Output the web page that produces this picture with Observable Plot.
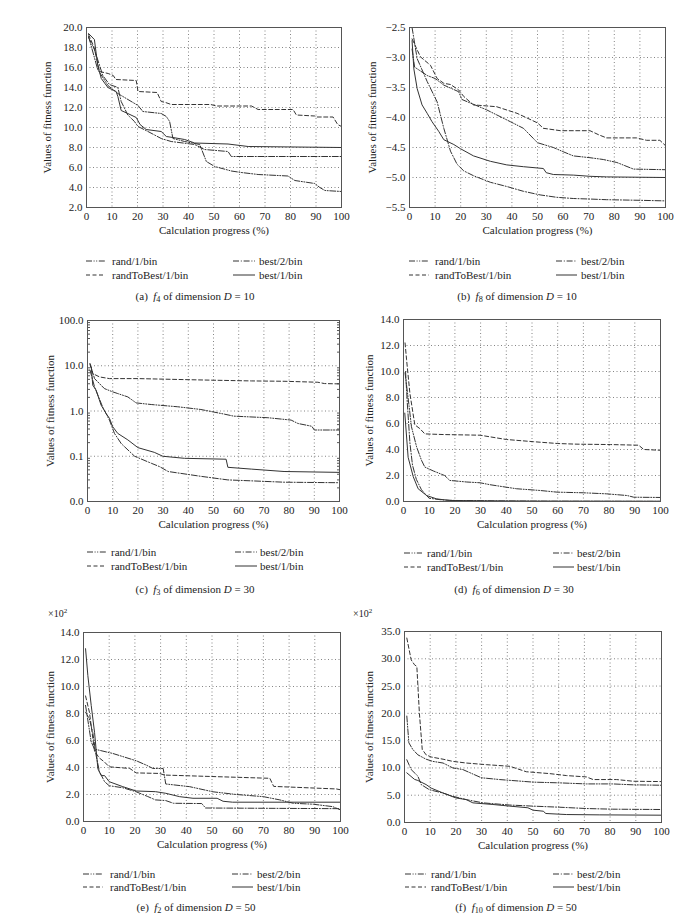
<!DOCTYPE html>
<html><head><meta charset="utf-8">
<script src="https://cdn.jsdelivr.net/npm/d3@7"></script>
<script src="https://cdn.jsdelivr.net/npm/@observablehq/plot@0.6"></script>
<style>
body{margin:0;background:#fff;}
#fig{position:relative;width:688px;height:923px;font-family:"Liberation Serif",serif;color:#222;overflow:hidden;}
.panel{position:absolute;}
.panel svg{overflow:visible;background:transparent !important;max-width:none !important;}
.leg{position:absolute;font-size:11px;line-height:12px;white-space:nowrap;transform:translateY(-50%);}
.samp{position:absolute;}
.cap{position:absolute;font-size:11px;white-space:nowrap;transform:translate(-50%,-50%);}
.cap sub{font-size:75%;vertical-align:-0.3em;line-height:0;}
.mult{position:absolute;font-size:10px;white-space:nowrap;transform:translateY(-50%);}
.mult sup{font-size:70%;vertical-align:0.45em;line-height:0;}
</style></head><body><div id="fig"></div>
<script>
// ---------- data ----------
const seriesNames = ["rand/1/bin", "best/2/bin", "randToBest/1/bin", "best/1/bin"];
const xTicks = [0,10,20,30,40,50,60,70,80,90,100];

// (a) f4, D = 10
const a_yTicks = [2,4,6,8,10,12,14,16,18,20];
const a_rand = [[0.8,19.1],[4.4,15.8],[8.4,14.2],[12.3,13.4],[20.2,12.2],[22.1,11.6],[29.3,11.4],[31.3,11.1],[32.6,10.6],[33.9,8.9],[38.5,8.6],[44.4,8.3],[47,6.6],[50.3,6.1],[56.8,5.65],[60.7,5.5],[67.3,5.3],[79,5.15],[81.7,4.7],[89.5,4.4],[91.5,4.0],[93.5,3.7],[100,3.6]];
const a_best2 = [[0.8,19.0],[3.1,17.8],[6.4,15.2],[9,14.3],[12.3,14.0],[13.6,12.6],[16.2,11.25],[18.8,10.6],[20.2,10.1],[24.1,9.6],[29.3,8.9],[33.2,8.6],[42.4,8.3],[46.3,7.8],[55.5,7.6],[56.8,7.1],[100,7.1]];
const a_rtb = [[0.8,19.3],[3,18],[5.1,15.6],[8.5,15.4],[10.5,15.2],[11.5,14.8],[19.5,14.7],[20.2,13.6],[27.7,13.5],[29.3,12.6],[31,12.5],[33.2,12.3],[48.7,12.3],[51,12.15],[64.7,12.15],[67.3,11.8],[81,11.8],[82.3,11.25],[89.5,11.15],[90,11.05],[96.7,11.05],[98.5,10.3],[100,10.1]];
const a_best1 = [[0.8,19.4],[3.1,18.8],[4.4,16.2],[5.8,14.9],[8.4,14.0],[11.6,13.6],[12.3,13.1],[13.6,11.7],[16.2,11.4],[19.5,11.0],[21,10.3],[23.4,9.8],[29.3,9.6],[31.3,9.1],[33.9,9.0],[38.5,8.8],[42.4,8.45],[55.5,8.35],[63.4,8.1],[100,8.0]];

// (b) f8, D = 10
const b_yTicks = [-5.5,-5,-4.5,-4,-3.5,-3,-2.5];
const b_rand = [[1,-2.86],[2,-3.16],[6.9,-3.3],[10,-3.35],[13.4,-3.46],[19.2,-3.57],[20.5,-3.7],[30,-3.87],[39.4,-4.07],[44.5,-4.18],[50,-4.42],[56.2,-4.5],[60,-4.57],[64,-4.64],[70.5,-4.67],[75.7,-4.7],[81,-4.75],[87.5,-4.86],[100,-4.87]];
const b_best2 = [[1,-2.5],[3,-3.02],[6.9,-3.4],[10.8,-3.74],[13.4,-4.18],[16,-4.56],[18.6,-4.78],[21.2,-4.89],[25,-4.97],[31.6,-5.08],[38,-5.15],[44.5,-5.23],[51,-5.29],[57.5,-5.33],[64,-5.35],[71,-5.36],[77,-5.37],[90,-5.38],[100,-5.39]];
const b_rtb = [[1,-2.69],[4.3,-2.99],[8.2,-3.13],[10.8,-3.35],[13.4,-3.43],[16,-3.45],[19.2,-3.54],[21.2,-3.65],[25,-3.79],[34,-3.82],[42,-3.93],[50,-4.09],[52.3,-4.18],[59,-4.22],[70.5,-4.22],[74,-4.29],[77,-4.34],[88.7,-4.34],[92.6,-4.38],[97.8,-4.38],[100,-4.47]];
const b_best1 = [[1,-2.72],[1.7,-3.19],[3,-3.52],[4.9,-3.79],[6.9,-3.93],[8.8,-4.07],[11.4,-4.23],[13.4,-4.37],[17.3,-4.45],[19.9,-4.52],[25,-4.64],[31.6,-4.73],[38,-4.79],[44.5,-4.82],[52.3,-4.85],[53.4,-4.92],[56.2,-4.95],[64,-4.96],[70.5,-4.98],[77,-4.99],[100,-5.0]];

// (c) f3, D = 30 (log scale)
const c_yTicks = [0.01,0.1,1,10,100];
const c_rand = [[1,11],[2.8,5.2],[6.7,3.13],[10,2.65],[12,2.43],[16,2.05],[19.3,1.51],[25.3,1.39],[35.8,1.24],[45,1.08],[54.4,0.85],[58,0.77],[71.6,0.71],[80.8,0.63],[83.5,0.53],[89,0.46],[90,0.38],[100,0.38]];
const c_best2 = [[1,8],[2.8,3.4],[6,1.23],[8.7,0.63],[10.7,0.32],[13.4,0.19],[18.7,0.1],[25.3,0.07],[28.6,0.059],[32,0.046],[45,0.036],[55.7,0.03],[65,0.0286],[78,0.0267],[100,0.026]];
const c_rtb = [[1,11.1],[2.1,6.7],[4.8,5.66],[8.7,5.2],[20,5.2],[38.5,4.94],[51.7,4.77],[65,4.62],[78,4.54],[91.4,4.32],[94,4.04],[100,3.97]];
const c_best1 = [[1,10],[1.5,9.4],[2.1,3.7],[3.4,2.9],[5.4,1.35],[7.4,0.88],[8.7,0.69],[10,0.45],[12,0.32],[16,0.23],[20,0.155],[26.5,0.122],[29.9,0.1],[38.5,0.09],[55,0.086],[55.7,0.057],[65,0.052],[78,0.046],[100,0.044]];

// (d) f6, D = 30
const d_yTicks = [0,2,4,6,8,10,12,14];
const d_rand = [[0.6,9.9],[2.2,7.3],[3.1,5.75],[5.1,4.2],[7,3.17],[8.3,2.65],[11.6,2.35],[16,2.0],[18,1.62],[24.6,1.5],[29.8,1.44],[33.7,1.29],[44,0.98],[53,0.85],[59.7,0.72],[70,0.67],[79,0.59],[87,0.46],[89.6,0.33],[100,0.31]];
const d_best2 = [[0.8,10.0],[1.5,7.5],[2.5,4.5],[3.5,2.8],[5,1.7],[7,0.9],[9,0.45],[10,0.25],[15,0.12],[20,0.08],[40,0.04],[60,0.02],[100,0.01]];
const d_rtb = [[0.6,12.2],[1.2,10.9],[2.5,8.3],[4.4,5.9],[6.4,5.6],[8.3,5.2],[15.5,5.15],[29.8,5.1],[40,4.77],[50.6,4.6],[60,4.46],[67.5,4.41],[80.5,4.38],[91.5,4.33],[93.5,4.0],[100,3.94]];
const d_best1 = [[0.5,6.8],[1.8,3.4],[3.8,1.9],[5.7,0.98],[9,0.46],[12.9,0.2],[18,0.08],[30,0.05],[50,0.03],[100,0.02]];

// (e) f2, D = 50 (x10^2)
const e_yTicks = [0,2,4,6,8,10,12,14];
const e_rand = [[0.8,8.6],[3,5.9],[4.3,5.36],[11.4,5.04],[20.5,4.5],[24.4,4.18],[27,3.93],[31,3.93],[32,2.78],[41.3,2.58],[50.4,2.2],[59.5,2.0],[70,1.84],[76.4,1.6],[81.6,1.35],[89.4,1.28],[97,1.1],[100,0.86]];
const e_best2 = [[0.8,8.1],[2.3,7.6],[3.6,6.6],[4.9,4.9],[6.2,3.7],[8.2,2.95],[10,2.65],[15.3,2.5],[20.5,2.2],[25,1.85],[28,1.6],[32,1.55],[35,1.35],[46,1.33],[47.5,1.0],[100,0.95]];
const e_rtb = [[0.8,9.3],[2.3,8.1],[4.3,5.2],[6.2,4.7],[8.2,4.4],[10,4.05],[18,3.93],[20.5,3.6],[29.6,3.56],[31.5,3.44],[72.5,3.2],[74,2.6],[98.4,2.41],[100,2.35]];
const e_best1 = [[0.8,12.8],[1.7,10.8],[3,8.6],[4.3,6.6],[5.6,3.9],[6.9,3.4],[8.2,3.4],[10,2.95],[15.3,2.58],[20.5,2.26],[28,2.21],[32,2.09],[37.4,1.84],[42.6,1.72],[52,1.72],[54.3,1.5],[58,1.43],[100,1.43]];

// (f) f10, D = 50 (x10^2)
const f_yTicks = [0,5,10,15,20,25,30,35];
const f_rand = [[0.9,19.5],[1.7,14.6],[3.2,13.4],[5.2,12.4],[8.4,11.6],[11,11.2],[15,10.9],[18.8,10],[22.7,9.7],[29.9,8.2],[37,7.87],[50,7.4],[60.4,7.26],[70.8,7.07],[81,7.07],[89,6.9],[100,6.83]];
const f_best2 = [[0.9,11.5],[2.6,9.7],[5.2,8.5],[6.5,6.95],[9.7,6.0],[15,5.4],[18.8,4.8],[24,4.2],[30.5,3.6],[41,3.2],[50,3.0],[60.4,2.8],[70.8,2.56],[81,2.44],[100,2.38]];
const f_rtb = [[0.9,33.8],[2.6,29.8],[3.9,28.9],[4.8,28.6],[5.8,20],[6.9,13.4],[8.4,12.4],[10.4,12.0],[15,11.6],[18.8,11.2],[24,10.9],[31.8,10.6],[41,10.3],[47.4,9.3],[56.5,8.96],[63,8.6],[70.8,8.35],[73.4,7.87],[82.5,7.87],[89,7.56],[100,7.5]];
const f_best1 = [[0.9,9.1],[3.9,7.9],[5.2,7.7],[8.4,6.95],[10.4,6.3],[15,5.4],[20,4.5],[24,4.2],[26.6,3.6],[34.4,3.3],[41,3.0],[48,2.7],[50,2.26],[54,2.07],[55,1.65],[63,1.46],[76,1.4],[100,1.34]];

// ---------- styles / layout ----------
const dashes = ["6,1.6,1,1.6,1,1.6", "6,1.8,1,1.8", "4,2.5", null];
const lineColor = "#333";
const fmt1 = d3.format(".1f");

const panels = [
  {id:"a", fn:"4", D:"10", series:[a_rand,a_best2,a_rtb,a_best1], yTicks:a_yTicks, domain:[2,20], type:"linear",
   left:0, top:0, h:310, m:[27,3,103,86], yl:39, s1:[86,105], t1:112, s2:[233,255], t2:259, rows:[261,275], cap:[195,296]},
  {id:"b", fn:"8", D:"10", series:[b_rand,b_best2,b_rtb,b_best1], yTicks:b_yTicks, domain:[-5.5,-2.5], type:"linear",
   left:344, top:0, h:310, m:[27,23,103,65], yl:37, s1:[409,429], t1:435, s2:[556,577], t2:581, rows:[261,275], cap:[517,296]},
  {id:"c", fn:"3", D:"30", series:[c_rand,c_best2,c_rtb,c_best1], yTicks:c_yTicks, domain:[0.01,100], type:"log",
   left:0, top:310, h:300, m:[10,5,109,87], yl:37, s1:[87,106], t1:111, s2:[235,257], t2:260, rows:[552,566], cap:[195,589]},
  {id:"d", fn:"6", D:"30", series:[d_rand,d_best2,d_rtb,d_best1], yTicks:d_yTicks, domain:[0,14], type:"linear",
   left:344, top:310, h:300, m:[9,28,109,59], yl:34, s1:[404,422], t1:427, s2:[553,574], t2:577, rows:[553,567], cap:[514,589]},
  {id:"e", fn:"2", D:"50", series:[e_rand,e_best2,e_rtb,e_best1], yTicks:e_yTicks, domain:[0,14], type:"linear",
   left:0, top:610, h:313, m:[22,4,102,83], yl:33, s1:[83,103], t1:110, s2:[232,253], t2:257, rows:[874,887], cap:[196,907], mult:[48,613]},
  {id:"f", fn:"10", D:"50", series:[f_rand,f_best2,f_rtb,f_best1], yTicks:f_yTicks, domain:[0,35], type:"linear",
   left:344, top:610, h:313, m:[21,27,101,60], yl:35, s1:[405,426], t1:431, s2:[553,574], t2:577, rows:[874,887], cap:[516,907], mult:[353,613]}
];

const fig = document.getElementById("fig");

function sample(x1, x2, y, dash) {
  const ns = "http://www.w3.org/2000/svg";
  const s = document.createElementNS(ns, "svg");
  s.setAttribute("width", x2 - x1); s.setAttribute("height", 6);
  s.setAttribute("class", "samp");
  s.style.left = x1 + "px"; s.style.top = (y - 3) + "px";
  const l = document.createElementNS(ns, "line");
  l.setAttribute("x1", 0); l.setAttribute("x2", x2 - x1);
  l.setAttribute("y1", 3); l.setAttribute("y2", 3);
  l.setAttribute("stroke", lineColor); l.setAttribute("stroke-width", 1);
  if (dash) l.setAttribute("stroke-dasharray", dash);
  s.appendChild(l);
  fig.appendChild(s);
}
function label(x, y, txt) {
  const d = document.createElement("div");
  d.className = "leg"; d.textContent = txt;
  d.style.left = x + "px"; d.style.top = y + "px";
  fig.appendChild(d);
}

for (const p of panels) {
  const [mt, mr, mb, ml] = p.m;
  const isLog = p.type === "log";
  const yFmt = fmt1;
  const marks = [
    Plot.gridX(xTicks.slice(1, -1), {stroke:"#555", strokeOpacity:0.9, strokeDasharray:"1,2.5", strokeWidth:0.8}),
    Plot.gridY(p.yTicks.slice(1, -1), {stroke:"#555", strokeOpacity:0.9, strokeDasharray:"1,2.5", strokeWidth:0.8}),
    Plot.axisX(xTicks, {tickSize:0, tickPadding:5, tickFormat:d3.format("d"), label:null}),
    Plot.axisY(p.yTicks, {tickSize:0, tickPadding:4, tickFormat:yFmt, label:null})
  ];
  if (isLog) {
    const minor = [];
    for (const dec of [0.01,0.1,1,10]) for (let k = 2; k <= 9; k++) minor.push(dec * k);
    marks.push(Plot.axisY(minor, {anchor:"left", tickSize:-3, text:null, label:null, stroke:"#555"}));
    marks.push(Plot.axisY(minor, {anchor:"right", tickSize:-3, text:null, label:null, stroke:"#555"}));
  }
  p.series.forEach((arr, i) => {
    marks.push(Plot.line(arr, {x:d => d[0], y:d => d[1], stroke:lineColor, strokeWidth:1,
      strokeDasharray:dashes[i] || undefined, curve:"linear"}));
  });
  marks.push(Plot.frame({stroke:"#555", strokeWidth:1}));
  marks.push(Plot.text(["Calculation progress (%)"], {frameAnchor:"bottom", dy:26, fontSize:11, fill:"#222", textAnchor:"middle"}));
  marks.push(Plot.text(["Values of fitness function"], {frameAnchor:"left", dx:-p.yl, rotate:-90, fontSize:11, fill:"#222", textAnchor:"middle"}));

  const chart = Plot.plot({
    width:344, height:p.h,
    marginTop:mt, marginRight:mr, marginBottom:mb, marginLeft:ml,
    style:{fontFamily:"'Liberation Serif', serif", fontSize:"11px", color:"#222", background:"transparent", overflow:"visible"},
    x:{domain:[0,100]},
    y:{type:p.type, domain:p.domain},
    marks
  });
  const wrap = document.createElement("div");
  wrap.className = "panel";
  wrap.style.left = p.left + "px"; wrap.style.top = p.top + "px";
  wrap.appendChild(chart);
  fig.appendChild(wrap);

  // legend
  sample(p.s1[0], p.s1[1], p.rows[0], dashes[0]); label(p.t1, p.rows[0], seriesNames[0]);
  sample(p.s2[0], p.s2[1], p.rows[0], dashes[1]); label(p.t2, p.rows[0], seriesNames[1]);
  sample(p.s1[0], p.s1[1], p.rows[1], dashes[2]); label(p.t1, p.rows[1], seriesNames[2]);
  sample(p.s2[0], p.s2[1], p.rows[1], dashes[3]); label(p.t2, p.rows[1], seriesNames[3]);

  // caption
  const cap = document.createElement("div");
  cap.className = "cap";
  cap.innerHTML = `(${p.id})&ensp;<i>f</i><sub>${p.fn}</sub> of dimension <i>D</i> = ${p.D}`;
  cap.style.left = p.cap[0] + "px"; cap.style.top = p.cap[1] + "px";
  fig.appendChild(cap);

  if (p.mult) {
    const m = document.createElement("div");
    m.className = "mult";
    m.innerHTML = "×10<sup>2</sup>";
    m.style.left = p.mult[0] + "px"; m.style.top = p.mult[1] + "px";
    fig.appendChild(m);
  }
}
</script></body></html>
